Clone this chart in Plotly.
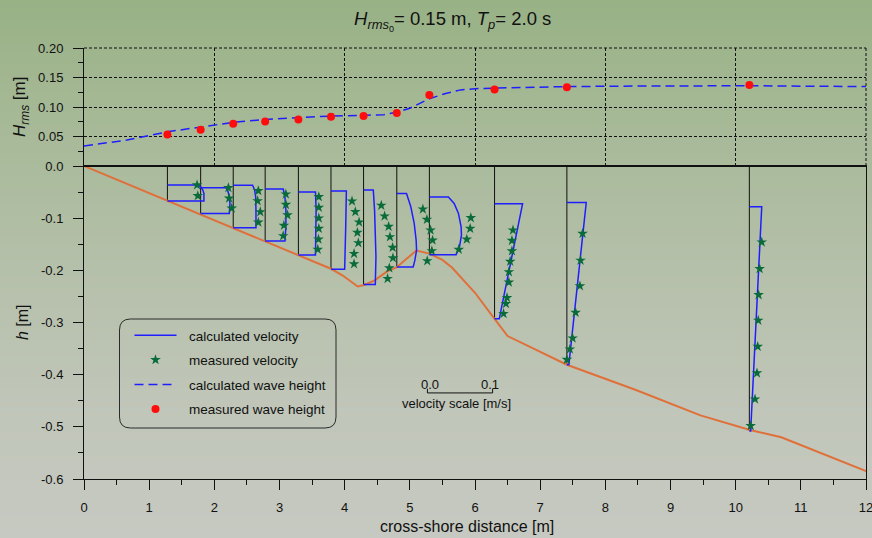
import base64
import struct
import zlib
import plotly.graph_objects as go

# ---------------- data ----------------
# bed profile (cross-shore distance [m], bed level [m])
bed_x = [0.0, 1.29, 2.29, 3.29, 3.79, 3.97, 4.2, 4.3, 4.45, 4.64, 4.8, 4.95, 5.1, 5.3,
         5.5, 5.65, 5.8, 6.0, 6.3, 6.5, 7.41, 8.46, 9.46, 10.22, 10.7, 12.0]
bed_z = [0.0, -0.067, -0.119, -0.171, -0.197, -0.21, -0.231, -0.228, -0.220, -0.203, -0.194,
         -0.178, -0.162, -0.168, -0.180, -0.195, -0.215, -0.243, -0.293, -0.326, -0.381,
         -0.429, -0.478, -0.506, -0.520, -0.585]

# measurement stations
station_x = [1.28, 1.79, 2.29, 2.78, 3.29, 3.79, 4.29, 4.80, 5.30, 6.30, 7.41, 10.21]
hrms_meas = [0.0535, 0.0615, 0.0715, 0.0756, 0.079, 0.0835, 0.0847, 0.090,
             0.1205, 0.1295, 0.1335, 0.1372]

# calculated wave height
hcalc_x = [0.0, 0.66, 1.28, 1.79, 2.29, 2.79, 3.29, 3.79, 4.29, 4.6, 4.8, 5.0, 5.3,
           5.55, 5.78, 6.0, 6.3, 7.4, 8.5, 10.2, 12.0]
hcalc = [0.034, 0.044, 0.058, 0.0665, 0.074, 0.079, 0.0824, 0.0847, 0.0858, 0.087,
         0.091, 0.098, 0.114, 0.123, 0.129, 0.131, 0.132, 0.1346, 0.1355, 0.136, 0.1346]

# calculated undertow profiles per station: depth z [m] and velocity u [m/s]
calc_z = [
    [-0.0365, -0.0397, -0.046, -0.0526, -0.067],
    [-0.0417, -0.049, -0.059, -0.072, -0.091],
    [-0.037, -0.046, -0.059, -0.0846, -0.1186],
    [-0.0442, -0.059, -0.0846, -0.1167, -0.1436],
    [-0.050, -0.0846, -0.1295, -0.1705],
    [-0.048, -0.1167, -0.198],
    [-0.046, -0.0846, -0.1295, -0.174, -0.227],
    [-0.0526, -0.0782, -0.110, -0.1423, -0.1615, -0.181, -0.1936],
    [-0.0596, -0.0718, -0.091, -0.1167, -0.1327, -0.155, -0.170],
    [-0.0725, -0.293],
    [-0.070, -0.381],
    [-0.078, -0.508],
]
calc_u = [
    [0.0457, 0.0508, 0.0544, 0.056, 0.056],
    [0.039, 0.042, 0.044, 0.045, 0.044],
    [0.0297, 0.0328, 0.0344, 0.0349, 0.0349],
    [0.0277, 0.0303, 0.0318, 0.0318, 0.0303],
    [0.0262, 0.0272, 0.0272, 0.0262],
    [0.0236, 0.0226, 0.021],
    [0.0149, 0.0169, 0.0185, 0.019, 0.018],
    [0.0149, 0.0215, 0.0267, 0.0297, 0.0303, 0.0277, 0.0251],
    [0.0292, 0.038, 0.0446, 0.0487, 0.0492, 0.0462, 0.041],
    [0.043, 0.0072],
    [0.0297, 0.003],
    [0.019, 0.002],
]

# measured undertow per station
meas_z = [
    [-0.0365, -0.057],
    [-0.0417, -0.062, -0.081],
    [-0.0475, -0.067, -0.088, -0.108],
    [-0.054, -0.074, -0.094, -0.114, -0.134],
    [-0.059, -0.0795, -0.100, -0.1199, -0.1404, -0.160],
    [-0.0673, -0.0878, -0.1077, -0.1276, -0.1474, -0.168, -0.1878],
    [-0.0756, -0.0962, -0.116, -0.136, -0.1564, -0.1763, -0.1955, -0.216],
    [-0.0827, -0.1026, -0.123, -0.1423, -0.1628, -0.182],
    [-0.0994, -0.1199, -0.1404, -0.160],
    [-0.123, -0.143, -0.163, -0.183, -0.203, -0.223, -0.2525, -0.264, -0.283],
    [-0.1295, -0.181, -0.230, -0.281, -0.330, -0.351, -0.371],
    [-0.146, -0.197, -0.247, -0.296, -0.346, -0.397, -0.447, -0.498],
]
meas_u = [
    [0.0455, 0.0466],
    [0.0426, 0.0437, 0.0477],
    [0.0385, 0.0374, 0.0415, 0.0385],
    [0.0318, 0.0318, 0.0343, 0.0288, 0.0277],
    [0.0313, 0.0313, 0.0313, 0.0313, 0.0308, 0.0297],
    [0.0323, 0.0374, 0.0431, 0.0405, 0.042, 0.0354, 0.0354],
    [0.0272, 0.0323, 0.0385, 0.0405, 0.0446, 0.0451, 0.0395, 0.0369],
    [0.040, 0.0462, 0.0518, 0.0549, 0.0538, 0.0467],
    [0.0636, 0.0626, 0.0574, 0.0451],
    [0.0283, 0.0267, 0.0267, 0.024, 0.022, 0.022, 0.0191, 0.0175, 0.0138],
    [0.024, 0.021, 0.020, 0.0134, 0.0088, 0.0046, 0.0],
    [0.019, 0.0158, 0.0142, 0.0137, 0.0128, 0.0117, 0.0087, 0.002],
]

VEL_SCALE = 10.0          # metres of cross-shore distance per m/s
scale_bar_u = [0.0, 0.1]  # velocity scale bar [m/s]
scale_bar_x0 = 5.27
scale_bar_z = -0.435

x_tickvals = list(range(0, 13))
x_ticktext = [str(v) for v in x_tickvals]
h_tickvals = [-0.6, -0.5, -0.4, -0.3, -0.2, -0.1, 0.0]
h_ticktext = ["-0.6", "-0.5", "-0.4", "-0.3", "-0.2", "-0.1", "0.0"]
H_tickvals = [0.05, 0.10, 0.15, 0.20]
H_ticktext = ["0.05", "0.10", "0.15", "0.20"]

# ---------------- geometry / style ----------------
W, H = 872, 538
L, R, T, B = 84, 6, 48, 59
PW, PH = W - L - R, H - T - B
SPLIT = 313.0 / PH

FONT = "Arial, Liberation Sans, Helvetica, sans-serif"
BLUE = "#1e1eff"
GREEN = "#0a6b3a"
ORANGE = "#e0703a"
INK = "#111111"
NB = "\u00a0\u00a0"


def PX(px):
    return (px - L) / PW


def PY(py):
    return (H - B - py) / PH


def gradient_png(stops, height, width=4):
    rows = []
    for yy in range(height):
        for i in range(len(stops) - 1):
            y0, c0 = stops[i]
            y1, c1 = stops[i + 1]
            if y0 <= yy <= y1:
                f = (yy - y0) / (y1 - y0)
                c = tuple(int(round(c0[k] + (c1[k] - c0[k]) * f)) for k in range(3))
                break
        rows.append(b"\x00" + bytes(c) * width)
    raw = b"".join(rows)

    def chunk(tag, data):
        return (struct.pack(">I", len(data)) + tag + data
                + struct.pack(">I", zlib.crc32(tag + data) & 0xFFFFFFFF))

    png = (b"\x89PNG\r\n\x1a\n"
           + chunk(b"IHDR", struct.pack(">IIBBBBB", width, height, 8, 2, 0, 0, 0))
           + chunk(b"IDAT", zlib.compress(raw, 9))
           + chunk(b"IEND", b""))
    return "data:image/png;base64," + base64.b64encode(png).decode()


bg_stops = [(0, (152, 177, 133)), (100, (164, 184, 148)), (270, (181, 192, 170)),
            (420, (193, 198, 186)), (537, (198, 201, 193))]

# ---------------- traces ----------------
fig = go.Figure()

# station verticals
vx, vy = [], []
for x0, zs in zip(station_x, calc_z):
    vx += [x0, x0, None]
    vy += [0.0, zs[-1], None]
fig.add_trace(go.Scatter(x=vx, y=vy, mode="lines", line=dict(color=INK, width=1),
                         showlegend=False, hoverinfo="skip", xaxis="x", yaxis="y"))

# bed
fig.add_trace(go.Scatter(x=bed_x, y=bed_z, mode="lines", line=dict(color=ORANGE, width=2),
                         showlegend=False, xaxis="x", yaxis="y"))

# calculated velocity profiles
px_, py_ = [], []
for x0, zs, us in zip(station_x, calc_z, calc_u):
    px_ += [x0] + [x0 + u * VEL_SCALE for u in us] + [x0, None]
    py_ += [zs[0]] + zs + [zs[-1], None]
fig.add_trace(go.Scatter(x=px_, y=py_, mode="lines", line=dict(color=BLUE, width=1.5),
                         name=NB + "calculated velocity", legendgroup="a",
                         xaxis="x", yaxis="y"))

# measured velocity
mx, my = [], []
for x0, zs, us in zip(station_x, meas_z, meas_u):
    mx += [x0 + u * VEL_SCALE for u in us]
    my += zs
fig.add_trace(go.Scatter(x=mx, y=my, mode="markers",
                         marker=dict(symbol="star", size=8, color=GREEN, line=dict(width=0)),
                         name=NB + "measured velocity", legendgroup="b",
                         xaxis="x", yaxis="y"))

# velocity scale bar
sbx = [scale_bar_x0 + u * VEL_SCALE for u in scale_bar_u]
fig.add_trace(go.Scatter(
    x=[sbx[0], sbx[0], sbx[1], sbx[1]],
    y=[scale_bar_z + 0.008, scale_bar_z, scale_bar_z, scale_bar_z + 0.008],
    mode="lines", line=dict(color=INK, width=1), showlegend=False, hoverinfo="skip",
    xaxis="x", yaxis="y"))

# wave heights (upper panel)
fig.add_trace(go.Scatter(x=hcalc_x, y=hcalc, mode="lines",
                         line=dict(color=BLUE, width=1.5, dash="9px,5px"),
                         name=NB + "calculated wave height", legendgroup="c",
                         xaxis="x2", yaxis="y2"))
fig.add_trace(go.Scatter(x=station_x, y=hrms_meas, mode="markers",
                         marker=dict(symbol="circle", size=8, color="#ff0d0d"),
                         name=NB + "measured wave height", legendgroup="d",
                         xaxis="x2", yaxis="y2"))

# ---------------- layout ----------------
tickfont = dict(family=FONT, size=13, color=INK)
grid = dict(showgrid=True, gridcolor=INK, gridwidth=1, griddash="3px,2px")

annotations = [
    dict(text="<i>H</i><sub><i>rms</i><sub>0</sub></sub>= 0.15 m, <i>T</i><sub><i>p</i></sub>= 2.0 s",
         xref="paper", yref="paper", x=PX(452), y=PY(21), showarrow=False,
         xanchor="center", yanchor="middle", font=dict(family=FONT, size=18.5, color=INK)),
    dict(text="cross-shore distance [m]", xref="paper", yref="paper", x=PX(467), y=PY(526),
         showarrow=False, xanchor="center", yanchor="middle",
         font=dict(family=FONT, size=16, color=INK)),
    dict(text="<i>h</i> [m]", xref="paper", yref="paper", x=PX(22), y=PY(322), textangle=-90,
         showarrow=False, xanchor="center", yanchor="middle",
         font=dict(family=FONT, size=16, color=INK)),
    dict(text="<i>H<sub>rms</sub></i> [m]", xref="paper", yref="paper", x=PX(21), y=PY(107),
         textangle=-90, showarrow=False, xanchor="center", yanchor="middle",
         font=dict(family=FONT, size=17, color=INK)),
    dict(text="0.0", xref="x", yref="y", x=sbx[0] + 0.04, y=scale_bar_z + 0.016,
         showarrow=False, font=dict(family=FONT, size=13, color=INK)),
    dict(text="0.1", xref="x", yref="y", x=sbx[1] - 0.04, y=scale_bar_z + 0.016,
         showarrow=False, font=dict(family=FONT, size=13, color=INK)),
    dict(text="velocity scale [m/s]", xref="x", yref="y", x=(sbx[0] + sbx[1]) / 2 - 0.05,
         y=scale_bar_z - 0.021, showarrow=False, font=dict(family=FONT, size=13, color=INK)),
]

x0b, x1b, y0b, y1b, rr = 119.5, 336.0, 319.0, 428.0, 11.0
legend_path = (
    f"M {PX(x0b + rr)},{PY(y0b)} L {PX(x1b - rr)},{PY(y0b)} "
    f"Q {PX(x1b)},{PY(y0b)} {PX(x1b)},{PY(y0b + rr)} L {PX(x1b)},{PY(y1b - rr)} "
    f"Q {PX(x1b)},{PY(y1b)} {PX(x1b - rr)},{PY(y1b)} L {PX(x0b + rr)},{PY(y1b)} "
    f"Q {PX(x0b)},{PY(y1b)} {PX(x0b)},{PY(y1b - rr)} L {PX(x0b)},{PY(y0b + rr)} "
    f"Q {PX(x0b)},{PY(y0b)} {PX(x0b + rr)},{PY(y0b)} Z"
)

shapes = [
    dict(type="path", path=legend_path, xref="paper", yref="paper",
         line=dict(color="#2a2a2a", width=1), layer="above"),
    dict(type="line", xref="paper", yref="y2 domain", x0=0, x1=1, y0=1, y1=1,
         line=dict(color=INK, width=1, dash="3px,2px")),
    dict(type="line", xref="paper", yref="y2 domain", x0=1, x1=1, y0=0, y1=1,
         line=dict(color=INK, width=1, dash="3px,2px")),
]

fig.update_layout(
    width=W, height=H,
    margin=dict(l=L, r=R, t=T, b=B, pad=0, autoexpand=False),
    paper_bgcolor="rgb(178,190,166)",
    plot_bgcolor="rgba(0,0,0,0)",
    font=dict(family=FONT, size=13, color=INK),
    images=[dict(source=gradient_png(bg_stops, H), xref="paper", yref="paper",
                 x=-L / PW, y=1 + T / PH, sizex=W / PW, sizey=H / PH,
                 sizing="stretch", xanchor="left", yanchor="top", layer="below")],
    xaxis=dict(domain=[0, 1], anchor="y", range=[0, 12], tickvals=x_tickvals,
               ticktext=x_ticktext, ticks="outside", ticklen=10, tickwidth=1,
               tickcolor=INK, minor=dict(dtick=0.5, tick0=0, ticks="outside", ticklen=5,
                                         tickcolor=INK, showgrid=False),
               showline=True, linecolor=INK, linewidth=1, mirror=True, showgrid=False,
               zeroline=False, tickfont=tickfont, ticklabelstandoff=6,
               ticklabeloverflow="allow", automargin=False),
    yaxis=dict(domain=[0, SPLIT], anchor="x", range=[-0.6, 0], tickvals=h_tickvals,
               ticktext=h_ticktext, ticks="outside", ticklen=10, tickwidth=1,
               tickcolor=INK, minor=dict(dtick=0.05, tick0=0, ticks="outside", ticklen=5,
                                         tickcolor=INK, showgrid=False),
               showline=True, linecolor=INK, linewidth=1, mirror=True, showgrid=False,
               zeroline=False, tickfont=tickfont, ticklabelstandoff=7, automargin=False),
    xaxis2=dict(domain=[0, 1], anchor="y2", range=[0, 12], tickvals=[2, 4, 6, 8, 10, 12],
                showticklabels=False, ticks="", showline=True, linecolor=INK, linewidth=1,
                zeroline=False, automargin=False, **grid),
    yaxis2=dict(domain=[SPLIT, 1], anchor="x2", range=[0, 0.2], tickvals=H_tickvals,
                ticktext=H_ticktext, ticks="outside", ticklen=10, tickwidth=1,
                tickcolor=INK, minor=dict(dtick=0.025, tick0=0, ticks="outside", ticklen=5,
                                          tickcolor=INK, showgrid=False),
                showline=True, linecolor=INK, linewidth=1, zeroline=False,
                tickfont=tickfont, ticklabelstandoff=7, automargin=False, **grid),
    legend=dict(x=PX(129.5), y=PY(320), xanchor="left", yanchor="top",
                bgcolor="rgba(0,0,0,0)", borderwidth=0, traceorder="grouped",
                tracegroupgap=4, itemwidth=42,
                font=dict(family=FONT, size=13.5, color=INK)),
    showlegend=True,
    annotations=annotations,
    shapes=shapes,
)

fig.write_html("out.html")
